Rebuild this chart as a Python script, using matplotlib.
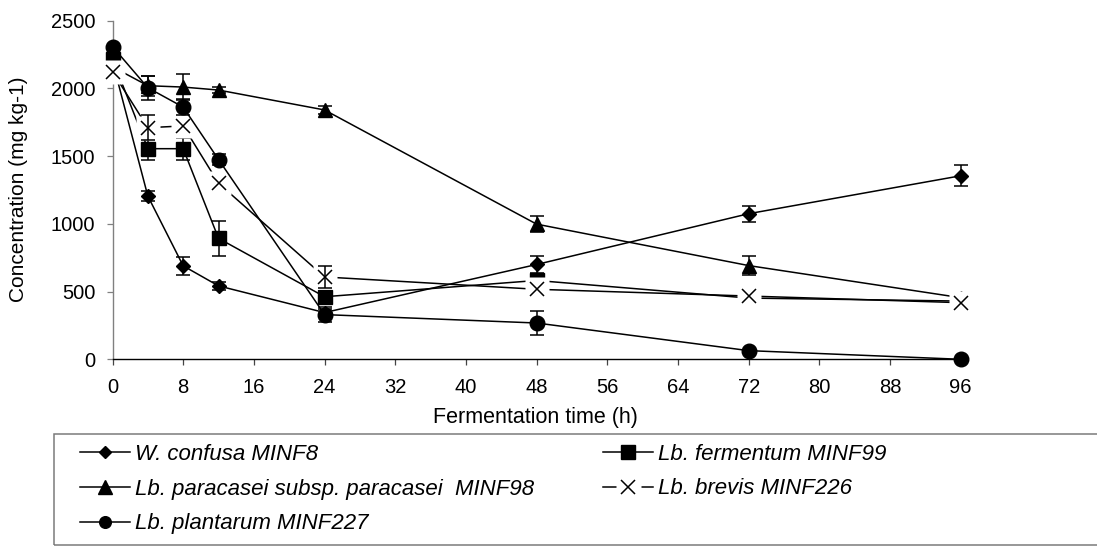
import matplotlib
matplotlib.use("Agg")
import matplotlib.pyplot as plt
from matplotlib.lines import Line2D
from matplotlib.patches import Rectangle
from matplotlib.legend_handler import HandlerTuple

plt.rcParams['font.family'] = ['Liberation Sans', 'DejaVu Sans']

NA = float('nan')  # no error bar shown

# Sampling times (h)
times = [0, 4, 8, 12, 24, 48, 72, 96]

# Concentration (mg kg-1) and standard deviations per strain
confusa = [2200, 1205, 690, 542, 345, 700, 1075, 1355]
confusa_err = [NA, 35, 68, 30, 30, 60, 60, 78]

fermentum = [2215, 1555, 1555, 893, 462, 582, 452, 430]
fermentum_err = [NA, 80, 80, 130, 40, 40, 30, 30]

paracasei = [2160, 2020, 2010, 1988, 1841, 998, 692, 455]
paracasei_err = [NA, 75, 95, 20, 30, 60, 70, 30]

brevis = [2124, 1710, 1723, 1300, 608, 517, 467, 418]
brevis_err = [NA, 94, NA, NA, 82, NA, NA, NA]

plantarum = [2309, 2005, 1862, 1475, 330, 268, 64, 0]
plantarum_err = [NA, 90, 60, 40, 58, 85, NA, NA]

labels = [
    "W. confusa MINF8",
    "Lb. fermentum MINF99",
    "Lb. paracasei subsp. paracasei  MINF98",
    "Lb. brevis MINF226",
    "Lb. plantarum MINF227",
]

x_ticks = list(range(0, 97, 8))
y_ticks = [0, 500, 1000, 1500, 2000, 2500]

W, H = 1097, 546
fig = plt.figure(figsize=(W / 100, H / 100), dpi=100)
ax = fig.add_axes([112.5 / W, 1 - 359.3 / H, (960.7 - 112.5) / W, (359.3 - 20.7) / H])

LW = 1.1
CAP = 5

def draw_series(vals, errs, marker, ms, z):
    ax.plot(times, vals, color='k', lw=LW, marker=marker, ms=ms, mfc='k', mec='k',
            zorder=z, clip_on=False)
    ax.errorbar(times, vals, yerr=errs, fmt='none', ecolor='k', elinewidth=LW,
                capsize=CAP, capthick=LW, zorder=z + 0.1, clip_on=False)

draw_series(confusa, confusa_err, 'D', 7.0, 2)
draw_series(fermentum, fermentum_err, 's', 10.3, 3)
draw_series(paracasei, paracasei_err, '^', 10.5, 4)

# brevis: crosses sit on a white patch that interrupts the lines underneath
ax.plot(times, brevis, color='k', lw=LW, zorder=5, clip_on=False)
ax.plot(times, brevis, ls='none', marker='s', ms=17, mfc='white', mec='none',
        zorder=5.1, clip_on=False)
ax.errorbar(times, brevis, yerr=brevis_err, fmt='none', ecolor='k', elinewidth=LW,
            capsize=CAP, capthick=LW, zorder=5.2, clip_on=False)
ax.plot(times, brevis, ls='none', marker='x', ms=10.6, mew=1.1, mec='k',
        zorder=5.3, clip_on=False)

draw_series(plantarum, plantarum_err, 'o', 10.5, 6)

ax.set_xlim(0, 96)
ax.set_ylim(0, 2500)
ax.set_xticks(x_ticks)
ax.set_yticks(y_ticks)
ax.tick_params(axis='both', labelsize=14.5, direction='out', length=4.3, width=0.9)
ax.tick_params(axis='x', colors='#444444', labelcolor='k', pad=9)
ax.tick_params(axis='y', colors='#808080', labelcolor='k', pad=8)
for s in ('top', 'right'):
    ax.spines[s].set_visible(False)
ax.spines['left'].set_color('#808080')
ax.spines['left'].set_linewidth(1.0)
ax.spines['bottom'].set_color('k')
ax.spines['bottom'].set_linewidth(1.0)

fig.text(19 / W, 1 - 189 / H, "Concentration (mg kg-1)", rotation=90,
         ha='center', va='center', fontsize=15)
fig.text(535 / W, 1 - 418 / H, "Fermentation time (h)", ha='center', va='center',
         fontsize=15.5)

# Legend frame
fig.patches.append(Rectangle((54.3 / W, 1 / H), (1110 - 54.3) / W, (545 - 434.3) / H,
                             transform=fig.transFigure, fill=False,
                             edgecolor='#7a7a7a', lw=1.1))

h_confusa = Line2D([], [], color='k', lw=LW, marker='D', ms=6, mfc='k', mec='k')
h_fermentum = Line2D([], [], color='k', lw=LW, marker='s', ms=10.5, mfc='k', mec='k')
h_paracasei = Line2D([], [], color='k', lw=LW, marker='^', ms=10, mfc='k', mec='k')
h_plantarum = Line2D([], [], color='k', lw=LW, marker='o', ms=8.4, mfc='k', mec='k')
h_brevis = (
    Line2D([], [], color='k', lw=LW),
    Line2D([], [], ls='none', marker='s', ms=18, mfc='white', mec='none'),
    Line2D([], [], ls='none', marker='x', ms=10.5, mew=1.1, mec='k'),
)

leg_font = {'family': 'Liberation Sans', 'style': 'italic', 'size': 16}
leg_kw = dict(loc='upper left', bbox_transform=fig.transFigure, frameon=False,
              borderpad=0, borderaxespad=0, handlelength=2.25, handletextpad=0.23,
              labelspacing=0.63, prop=leg_font,
              handler_map={tuple: HandlerTuple(ndivide=1)})

leg1 = fig.legend([h_confusa, h_paracasei, h_plantarum],
                  [labels[0], labels[2], labels[4]],
                  bbox_to_anchor=(80 / W, 1 - 443.5 / H), **leg_kw)
leg2 = fig.legend([h_fermentum, h_brevis], [labels[1], labels[3]],
                  bbox_to_anchor=(603 / W, 1 - 443.5 / H), **leg_kw)

fig.savefig("out.png", dpi=100)
